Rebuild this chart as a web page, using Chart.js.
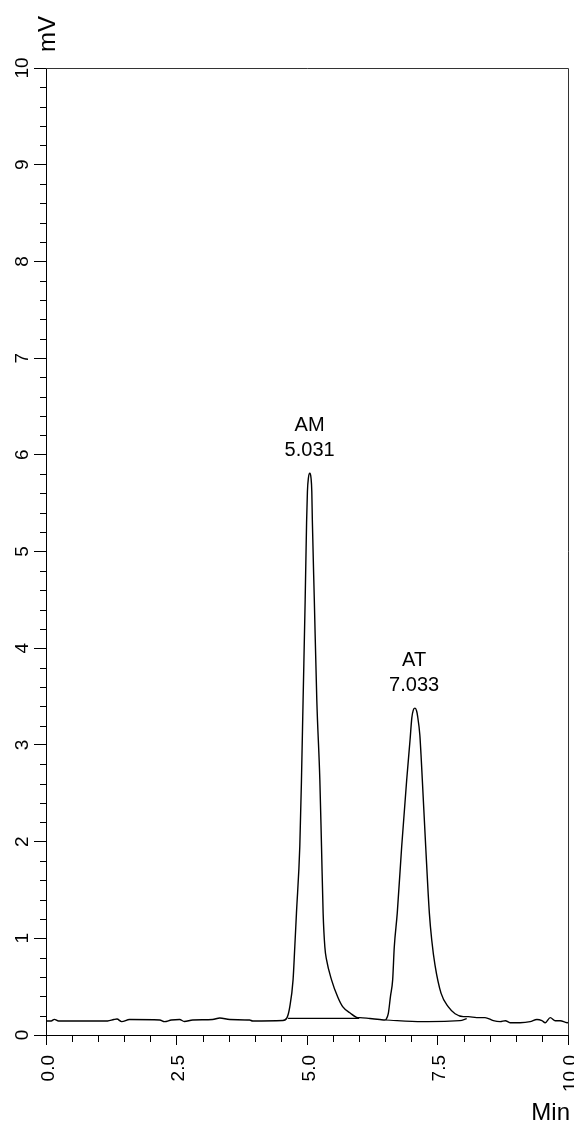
<!DOCTYPE html>
<html><head><meta charset="utf-8">
<script src="https://cdn.jsdelivr.net/npm/chart.js@4.4.1/dist/chart.umd.min.js"></script>
<style>html,body{margin:0;padding:0;background:#fff;}#wrap{width:574px;height:1122px;position:relative;}</style>
</head><body><div id="wrap"><canvas id="c" width="574" height="1122"></canvas></div>
<script>
// ---- data ----
const times = [
  0.00, 0.10, 0.16, 0.24, 1.18, 1.30, 1.36, 1.45, 1.60, 2.18, 2.27, 2.40, 2.56, 2.65, 2.81, 3.19, 3.33, 3.52, 3.90, 3.96, 4.535,
  4.618, 4.670, 4.733, 4.766, 4.798, 4.862, 4.894, 4.925, 4.965, 4.992, 5.008, 5.027, 5.054, 5.077, 5.092, 5.102, 5.140, 5.188,
  5.246, 5.278, 5.309, 5.342, 5.374, 5.470, 5.591, 5.687, 5.821, 5.975,
  6.013, 6.205, 6.397, 6.493,
  6.512, 6.557, 6.599, 6.641, 6.672, 6.729, 6.814, 6.910, 6.974, 7.008, 7.036, 7.069, 7.100, 7.118, 7.162, 7.184, 7.209,
  7.274, 7.344, 7.390, 7.453, 7.569, 7.708, 7.837, 7.996,
  8.09, 8.25, 8.41, 8.57, 8.70, 8.80, 8.89, 9.08, 9.276, 9.405, 9.501, 9.564, 9.660, 9.756, 9.852, 9.981, 10.0
];
const signal = [
  0.145, 0.145, 0.162, 0.145, 0.145, 0.16, 0.165, 0.138, 0.16, 0.155, 0.138, 0.155, 0.16, 0.14, 0.155, 0.16, 0.176, 0.16, 0.155, 0.145, 0.15,
  0.18, 0.29, 0.57, 0.91, 1.26, 1.95, 2.64, 3.46, 4.5, 5.3, 5.62, 5.76, 5.81, 5.76, 5.62, 5.33, 4.5, 3.46,
  2.64, 1.95, 1.26, 0.91, 0.78, 0.57, 0.39, 0.29, 0.23, 0.18,
  0.18, 0.17, 0.16, 0.155,
  0.16, 0.22, 0.4, 0.57, 0.91, 1.26, 1.95, 2.64, 3.05, 3.28, 3.36, 3.38, 3.35, 3.3, 3.1, 2.9, 2.64,
  1.95, 1.26, 0.98, 0.72, 0.43, 0.29, 0.22, 0.19,
  0.19, 0.18, 0.18, 0.148, 0.138, 0.148, 0.127, 0.127, 0.138, 0.16, 0.148, 0.127, 0.18, 0.148, 0.148, 0.127, 0.13
];
const amBaseTimes = [4.637, 6.0];
const amBaseValues = [0.172, 0.172];
const atBaseTimes = [6.51, 7.2, 7.93, 8.06];
const atBaseValues = [0.155, 0.138, 0.148, 0.17];
const peakNames = ['AM', 'AT'];
const peakTimeLabels = ['5.031', '7.033'];
const peakTops = [5.81, 3.38];
const xTickValues = [0, 2.5, 5, 7.5, 10];
const xTickLabels = ['0.0', '2.5', '5.0', '7.5', '10.0'];
const yTickValues = [0, 1, 2, 3, 4, 5, 6, 7, 8, 9, 10];
const yTickLabels = ['0', '1', '2', '3', '4', '5', '6', '7', '8', '9', '10'];
const xTitle = 'Min';
const yTitle = 'mV';

const FONT = "'Liberation Sans', Arial, sans-serif";
const toPts = (xs, ys) => xs.map((t, i) => ({x: t, y: ys[i]}));

const decor = {
  id: 'decor',
  afterDraw(chart) {
    const ctx = chart.ctx, a = chart.chartArea;
    const xs = chart.scales.x, ys = chart.scales.y;
    ctx.save();
    // frame top and right
    ctx.strokeStyle = '#333'; ctx.lineWidth = 1;
    ctx.beginPath();
    ctx.moveTo(a.left, Math.round(a.top) + 0.5);
    ctx.lineTo(Math.round(a.right) + 0.5, Math.round(a.top) + 0.5);
    ctx.lineTo(Math.round(a.right) + 0.5, a.bottom);
    ctx.stroke();
    // minor ticks
    ctx.strokeStyle = '#000';
    ctx.beginPath();
    for (let i = 1; i < 50; i++) {
      if (i % 5 === 0) continue;
      const py = Math.round(ys.getPixelForValue(i * 0.2)) + 0.5;
      ctx.moveTo(a.left - 6, py); ctx.lineTo(a.left, py);
    }
    for (let i = 1; i < 20; i++) {
      if (i % 5 === 0) continue;
      const px = Math.round(xs.getPixelForValue(i * 0.5)) + 0.5;
      ctx.moveTo(px, a.bottom); ctx.lineTo(px, a.bottom + 7);
    }
    ctx.stroke();
    ctx.fillStyle = '#000';
    // y tick labels (rotated)
    ctx.font = '19px ' + FONT;
    ctx.textAlign = 'center'; ctx.textBaseline = 'alphabetic';
    yTickValues.forEach((v, i) => {
      const py = ys.getPixelForValue(v);
      ctx.save(); ctx.translate(a.left - 18, py); ctx.rotate(-Math.PI / 2);
      ctx.fillText(yTickLabels[i], 0, 0); ctx.restore();
    });
    // x tick labels (rotated)
    ctx.textAlign = 'right';
    xTickValues.forEach((v, i) => {
      const px = xs.getPixelForValue(v);
      ctx.save(); ctx.translate(px + 7.5, a.bottom + 20); ctx.rotate(-Math.PI / 2);
      ctx.fillText(xTickLabels[i], 0, 0); ctx.restore();
    });
    // axis titles
    ctx.font = '24px ' + FONT;
    ctx.textAlign = 'right';
    ctx.fillText(xTitle, 570, 1120);
    ctx.save(); ctx.translate(55, 34); ctx.rotate(-Math.PI / 2);
    ctx.textAlign = 'center'; ctx.fillText(yTitle, 0, 0); ctx.restore();
    // peak annotations
    ctx.font = '20px ' + FONT;
    ctx.textAlign = 'center';
    peakNames.forEach((n, i) => {
      const px = xs.getPixelForValue(parseFloat(peakTimeLabels[i])) + 1;
      const py = ys.getPixelForValue(peakTops[i]);
      ctx.fillText(n, px, py - 42);
      ctx.fillText(peakTimeLabels[i], px, py - 17);
    });
    ctx.restore();
  }
};

new Chart(document.getElementById('c'), {
  type: 'line',
  data: {
    datasets: [
      {data: toPts(times, signal), borderColor: '#000', borderWidth: 1.4, pointRadius: 0, fill: false, cubicInterpolationMode: 'monotone'},
      {data: toPts(amBaseTimes, amBaseValues), borderColor: '#000', borderWidth: 1.2, pointRadius: 0, fill: false},
      {data: toPts(atBaseTimes, atBaseValues), borderColor: '#000', borderWidth: 1.2, pointRadius: 0, fill: false, tension: 0.3}
    ]
  },
  options: {
    responsive: false, animation: false, devicePixelRatio: 1,
    layout: {padding: {left: 0, top: 68, right: 6, bottom: 0}},
    plugins: {legend: {display: false}, tooltip: {enabled: false}},
    scales: {
      x: {
        type: 'linear', min: 0, max: 10, position: 'bottom',
        afterFit(s) { s.height = 87; },
        ticks: {display: false, stepSize: 2.5},
        grid: {display: true, drawOnChartArea: false, drawTicks: true, tickLength: 10, tickColor: '#000', tickWidth: 1},
        border: {display: true, color: '#000', width: 1}
      },
      y: {
        type: 'linear', min: 0, max: 10,
        afterFit(s) { s.width = 46; },
        ticks: {display: false, stepSize: 1},
        grid: {display: true, drawOnChartArea: false, drawTicks: true, tickLength: 12, tickColor: '#000', tickWidth: 1},
        border: {display: true, color: '#000', width: 1}
      }
    }
  },
  plugins: [decor]
});
</script></body></html>
